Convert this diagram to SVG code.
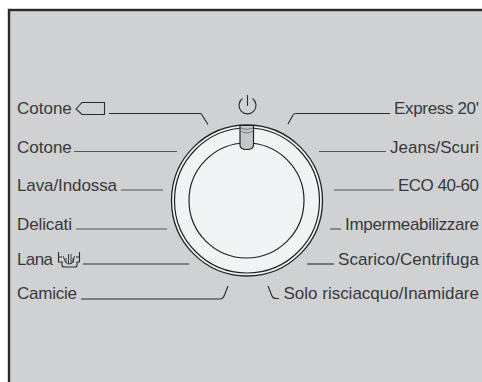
<svg xmlns="http://www.w3.org/2000/svg" width="482" height="382" viewBox="0 0 482 382">
<style>
text{font-family:"Liberation Sans",Arial,sans-serif;font-size:17px;fill:#38383b}
.e{text-anchor:end}
.l{fill:none;stroke:#2b2b2d;stroke-width:1.1}
.g{fill:none;stroke:#555558;stroke-width:1.2}
.r{fill:none;stroke:#222224;stroke-width:1.2}
</style>
<rect width="482" height="382" fill="#ffffff"/>
<rect x="9" y="10" width="480" height="380" fill="#d0d1d3" stroke="#2a2a2c" stroke-width="2.4"/>
<g id="connectors">
<path class="l" d="M109 113.500H201L208 124.500"/>
<path class="g" d="M74 151.500H177"/>
<path class="g" d="M121 190H163"/>
<path class="g" d="M76 229H167"/>
<path class="l" d="M83 264H189"/>
<path class="l" d="M81 299H220Q223 299 224.500 295L228 286"/>
<path class="l" d="M288 124L293 115Q294 113.500 296 113.500H390"/>
<path class="g" d="M319 151.500H386"/>
<path class="g" d="M334 190H394"/>
<path class="g" d="M330 229H341"/>
<path class="l" d="M307 264H334"/>
<path class="l" d="M268 286L272 296Q273 298.500 276 298.500H279"/>
</g>
<g id="dial">
<circle cx="247" cy="200.500" r="75.500" fill="#f2f3f5" stroke="#222224" stroke-width="1.3"/>
<circle cx="247" cy="200.500" r="72.500" class="r" stroke-width="1"/>
<circle cx="246.500" cy="200.500" r="57.500" class="r"/>
<path d="M240 125.500H253.500V145Q253.500 149.500 246.750 149.500Q240 149.500 240 145Z" fill="#c6c7c9" stroke="#222224" stroke-width="1.2"/>
<path d="M241 128Q247 131 253 128M241 131Q247 135 253 131" fill="none" stroke="#77787a" stroke-width="1"/>
</g>
<g id="power">
<path class="l" d="M242.500 98.500A8.500 8.500 0 1 0 252.500 98.500"/>
<path class="l" d="M247.500 95V106"/>
</g>
<g id="cotone-tub"><text x="17" y="114">Cotone</text><path class="l" d="M76 109L82 102.500H104.500V114.500H82Z"/></g>
<g id="cotone"><text x="17" y="153">Cotone</text></g>
<g id="lava"><text x="17" y="191" textLength="100">Lava/Indossa</text></g>
<g id="delicati"><text x="17" y="229.500" textLength="55">Delicati</text></g>
<g id="lana"><text x="17" y="265" textLength="36">Lana</text>
<path class="l" d="M58.500 252V262H62V265Q62 267 64 267H75Q77 267 77 265V262H79.500V252M58.500 257H62M79.500 257H76"/>
<path d="M63 256L65.500 262Q69 266 73 262L74.500 256M66 258V263M68.500 254V264M71 254V264M73 258V263" fill="none" stroke="#2b2b2d" stroke-width="0.9"/></g>
<g id="camicie"><text x="17" y="299" textLength="60">Camicie</text></g>
<g id="express"><text class="e" x="479" y="114" textLength="85">Express 20'</text></g>
<g id="jeans"><text class="e" x="479" y="153" textLength="89">Jeans/Scuri</text></g>
<g id="eco"><text class="e" x="479" y="191" textLength="81">ECO 40-60</text></g>
<g id="imperm"><text class="e" x="479" y="229.500" textLength="134">Impermeabilizzare</text></g>
<g id="scarico"><text class="e" x="479" y="265" textLength="141">Scarico/Centrifuga</text></g>
<g id="solo"><text class="e" x="479" y="299" textLength="195.500">Solo risciacquo/Inamidare</text></g>
</svg>
